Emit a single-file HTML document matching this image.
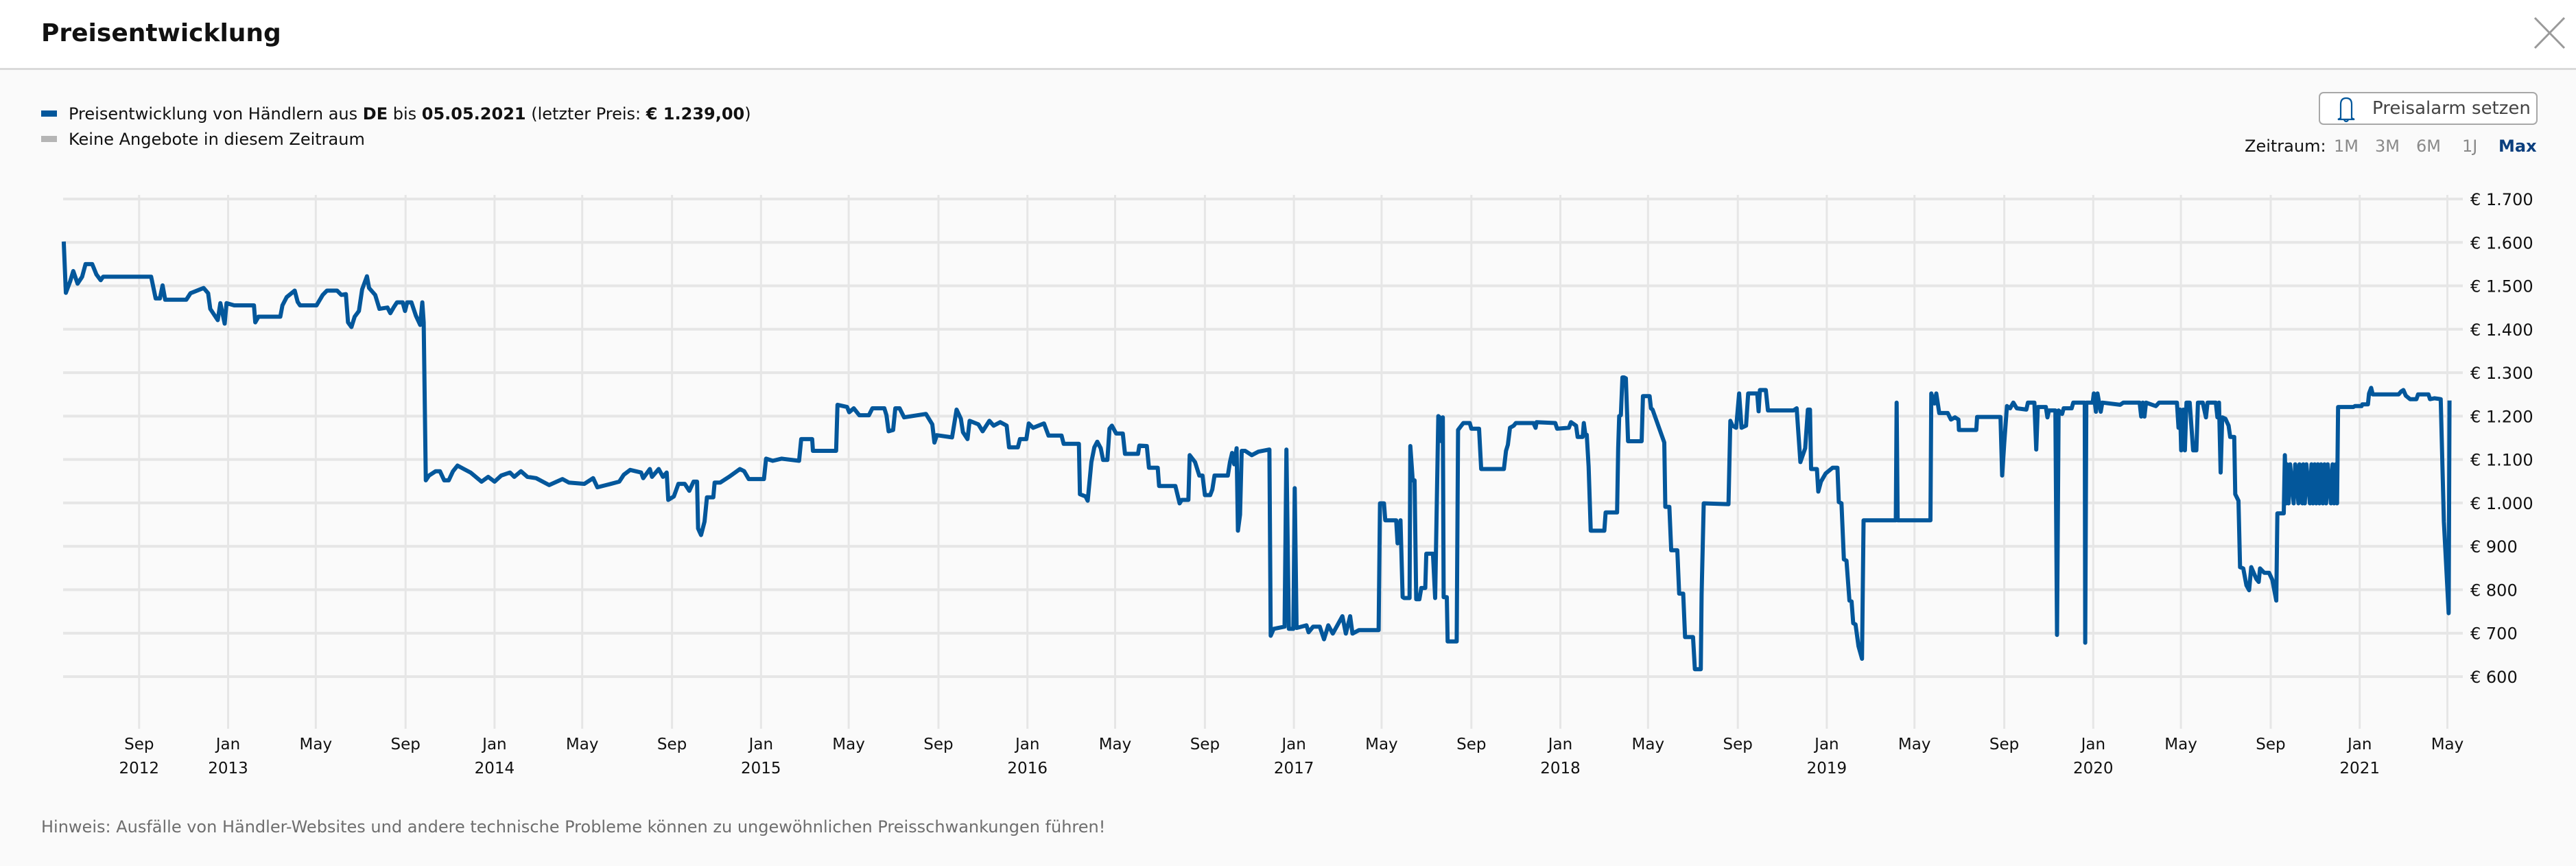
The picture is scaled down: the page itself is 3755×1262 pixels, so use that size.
<!DOCTYPE html>
<html><head><meta charset="utf-8">
<style>
html,body{margin:0;padding:0;width:3755px;height:1262px;overflow:hidden;background:#fafafa;font-family:"DejaVu Sans","Liberation Sans",sans-serif;}
svg{display:block}
</style></head>
<body>
<svg id="chart" width="3755" height="1262" viewBox="0 0 3755 1262" xmlns="http://www.w3.org/2000/svg">
  <rect x="0" y="0" width="3755" height="100" fill="#ffffff"/>
  <rect x="0" y="99" width="3755" height="3" fill="#dadada"/>
  <text x="60" y="60" font-size="36" font-weight="bold" fill="#111">Preisentwicklung</text>
  <g stroke="#9a9a9a" stroke-width="3">
    <line x1="3695" y1="26" x2="3738" y2="70"/>
    <line x1="3738" y1="26" x2="3695" y2="70"/>
  </g>

  <g font-size="24" fill="#111">
    <rect x="60" y="161" width="23" height="9" fill="#03579b"/>
    <text x="100" y="174">Preisentwicklung von Händlern aus <tspan font-weight="bold">DE</tspan> bis <tspan font-weight="bold">05.05.2021</tspan> (letzter Preis: <tspan font-weight="bold">€ 1.239,00</tspan>)</text>
    <rect x="60" y="198" width="23" height="9" fill="#b5b5b5"/>
    <text x="100" y="211">Keine Angebote in diesem Zeitraum</text>
  </g>

  <g>
    <rect x="3381" y="135" width="317" height="46" rx="6" fill="#ffffff" stroke="#a8a8a8" stroke-width="2"/>
    <path d="M3412 172 L3412 152 Q3412 143 3420 143 Q3428 143 3428 152 L3428 172 L3432 174 L3408 174 Z M3417 175 Q3420 179 3423 175" fill="none" stroke="#03579b" stroke-width="2.2"/>
    <text x="3458" y="166" font-size="26" fill="#444">Preisalarm setzen</text>
  </g>

  <g font-size="24">
    <text x="3272" y="221" fill="#111">Zeitraum:</text>
    <text x="3402" y="221" fill="#8a8a8a">1M</text>
    <text x="3462" y="221" fill="#8a8a8a">3M</text>
    <text x="3522" y="221" fill="#8a8a8a">6M</text>
    <text x="3589" y="221" fill="#8a8a8a">1J</text>
    <text x="3642" y="221" fill="#0b3f7e" font-weight="bold">Max</text>
  </g>

  <g id="grid"></g>
  <g id="yaxis"></g>
  <g id="xaxis"></g>
  <g id="series"></g>

  <text x="60" y="1213" font-size="24" fill="#6e6e6e">Hinweis: Ausfälle von Händler-Websites und andere technische Probleme können zu ungewöhnlichen Preisschwankungen führen!</text>
</svg>
<script>
const yTicks = [1700,1600,1500,1400,1300,1200,1100,1000,900,800,700,600];
const yTickLabels = ["€ 1.700","€ 1.600","€ 1.500","€ 1.400","€ 1.300","€ 1.200","€ 1.100","€ 1.000","€ 900","€ 800","€ 700","€ 600"];
const xTicks = [2012.666,2013.0,2013.329,2013.666,2014.0,2014.329,2014.666,2015.0,2015.329,2015.666,2016.0,2016.329,2016.666,2017.0,2017.329,2017.666,2018.0,2018.329,2018.666,2019.0,2019.329,2019.666,2020.0,2020.329,2020.666,2021.0,2021.329];
const xTickMonths = ["Sep","Jan","May","Sep","Jan","May","Sep","Jan","May","Sep","Jan","May","Sep","Jan","May","Sep","Jan","May","Sep","Jan","May","Sep","Jan","May","Sep","Jan","May"];
const xTickYears = ["2012","2013","","","2014","","","2015","","","2016","","","2017","","","2018","","","2019","","","2020","","","2021",""];
const dates = [
2012.383,2012.391,2012.407,2012.419,2012.435,2012.452,2012.465,2012.490,2012.506,2012.522,2012.531,2012.711,2012.728,2012.744,2012.754,2012.764,2012.843,2012.859,2012.908,2012.925,2012.933,2012.961,2012.971,2012.987,2012.994,2013.023,2013.097,2013.102,2013.114,2013.196,2013.204,2013.220,2013.250,2013.261,2013.270,2013.332,2013.355,2013.371,2013.409,2013.425,2013.442,2013.450,2013.463,2013.475,2013.491,2013.503,2013.521,2013.529,2013.552,2013.568,2013.598,2013.609,2013.623,2013.634,2013.655,2013.664,2013.672,2013.688,2013.705,2013.721,2013.729,2013.734,2013.742,2013.754,2013.779,2013.795,2013.811,2013.828,2013.844,2013.861,2013.885,2013.910,2013.951,2013.976,2014.000,2014.025,2014.058,2014.074,2014.099,2014.123,2014.156,2014.205,2014.255,2014.279,2014.337,2014.370,2014.386,2014.419,2014.468,2014.485,2014.509,2014.550,2014.558,2014.583,2014.591,2014.616,2014.632,2014.646,2014.652,2014.673,2014.690,2014.714,2014.731,2014.747,2014.760,2014.764,2014.775,2014.788,2014.797,2014.821,2014.826,2014.847,
2014.880,2014.921,2014.937,2014.954,2015.011,2015.019,2015.044,2015.077,2015.143,2015.151,2015.192,2015.195,2015.282,2015.287,2015.323,2015.331,2015.348,2015.369,2015.405,2015.418,2015.463,2015.471,2015.479,2015.496,2015.504,2015.520,2015.537,2015.619,2015.643,2015.651,2015.660,2015.717,2015.734,2015.750,2015.758,2015.775,2015.783,2015.816,2015.832,2015.857,2015.873,2015.898,2015.922,2015.931,2015.964,2015.972,2015.996,2016.005,2016.021,2016.062,2016.079,2016.128,2016.136,2016.193,2016.197,2016.218,2016.226,2016.240,2016.251,2016.262,2016.275,2016.284,2016.300,2016.308,2016.317,2016.333,2016.358,2016.366,2016.415,2016.420,2016.448,2016.456,2016.489,2016.494,2016.555,2016.571,2016.579,2016.604,2016.609,2016.629,2016.645,2016.657,2016.666,2016.686,2016.694,2016.702,2016.752,2016.760,2016.768,2016.776,2016.785,2016.790,2016.798,2016.804,2016.817,2016.842,2016.867,2016.908,2016.913,2016.924,2016.965,2016.972,2016.981,2016.998,2017.003,2017.010,2017.047,2017.055,2017.072,2017.097,2017.113,2017.129,2017.146,2017.182,2017.195,2017.211,2017.220,2017.244,2017.318,2017.323,2017.338,2017.343,2017.384,2017.389,2017.400,2017.408,
2017.414,2017.434,2017.437,2017.446,2017.453,2017.459,2017.471,2017.478,2017.493,2017.497,2017.522,2017.530,2017.542,2017.547,2017.553,2017.559,2017.562,2017.574,2017.577,2017.611,2017.616,2017.626,2017.636,2017.660,2017.666,2017.695,2017.703,2017.788,2017.796,2017.803,2017.811,2017.825,2017.833,2017.899,2017.907,2017.911,2017.981,2017.988,2018.032,2018.040,2018.059,2018.065,2018.084,2018.088,2018.094,2018.099,2018.106,2018.114,2018.165,2018.170,2018.213,2018.217,2018.221,2018.227,2018.233,2018.239,2018.246,2018.254,2018.305,2018.310,2018.335,2018.340,2018.346,2018.390,2018.394,2018.409,2018.416,2018.439,2018.446,2018.461,2018.468,2018.498,2018.505,2018.527,2018.530,2018.538,2018.631,2018.638,2018.646,2018.660,2018.671,2018.680,2018.697,2018.705,2018.739,2018.744,2018.749,2018.771,2018.779,2018.875,2018.887,2018.901,2018.919,2018.929,2018.937,2018.941,2018.963,2018.968,2018.978,2018.996,2019.022,2019.040,2019.045,2019.055,2019.064,2019.074,2019.085,2019.093,2019.099,2019.108,2019.119,2019.132,2019.138,2019.259,2019.262,2019.266,2019.389,2019.392,2019.404,2019.411,2019.422,2019.454,2019.466,2019.481,2019.494,2019.496,2019.561,2019.564,2019.652,2019.658,2019.666,2019.676,2019.688,2019.700,2019.713,2019.749,2019.755,2019.779,2019.786,2019.792,2019.822,2019.828,2019.834,2019.858,2019.864,2019.870,2019.883,2019.889,2019.919,2019.925,2019.968,2019.970,2019.974,2019.998,2020.002,2020.010,2020.016,2020.028,2020.034,2020.101,2020.113,2020.174,2020.180,2020.186,2020.192,2020.198,2020.235,2020.247,2020.314,2020.320,2020.326,2020.330,2020.338,2020.344,2020.350,2020.362,2020.375,2020.387,2020.393,2020.411,2020.423,2020.429,2020.460,2020.466,2020.472,2020.478,2020.484,2020.496,2020.508,2020.514,2020.529,2020.533,2020.545,2020.551,2020.563,2020.575,2020.585,2020.593,2020.612,2020.621,2020.626,2020.642,2020.660,2020.672,2020.687,2020.691,2020.715,2020.719,2020.724,2020.727,2020.733,2020.739,2020.752,2020.758,2020.770,2020.774,2020.785,2020.788,2020.794,2020.800,2020.813,2020.819,2020.825,2020.831,2020.837,2020.843,2020.849,2020.855,2020.862,2020.868,2020.874,2020.880,2020.892,2020.898,2020.904,2020.910,2020.915,2020.919,2020.976,2020.982,2021.007,2021.010,2021.031,2021.035,2021.043,2021.049,2021.146,2021.156,2021.164,2021.173,2021.189,2021.213,2021.219,2021.258,2021.264,2021.280,2021.304,2021.316,2021.334,2021.337
];
const prices = [
1602,1484,1510,1534,1505,1521,1550,1550,1526,1513,1521,1521,1471,1471,1501,1468,1468,1483,1495,1483,1447,1421,1460,1413,1460,1455,1455,1416,1429,1429,1455,1474,1489,1463,1455,1455,1479,1489,1489,1479,1481,1416,1405,1429,1442,1492,1522,1495,1479,1447,1450,1437,1452,1462,1462,1442,1462,1462,1431,1410,1462,1416,1052,1063,1073,1073,1052,1052,1073,1086,1078,1070,1049,1060,1049,1063,1070,1060,1073,1060,1057,1041,1055,1047,1044,1057,1036,1041,1049,1065,1076,1070,1057,1078,1060,1078,1060,1070,1007,1015,1044,1044,1028,1049,1049,941,926,957,1013,1013,1047,1047,
1060,1078,1073,1055,1055,1102,1097,1102,1097,1147,1147,1120,1120,1226,1221,1209,1218,1202,1202,1218,1218,1202,1165,1168,1218,1218,1197,1205,1181,1139,1156,1151,1215,1194,1163,1147,1189,1181,1165,1189,1178,1186,1178,1128,1128,1147,1147,1183,1173,1183,1155,1155,1136,1136,1020,1015,1005,1094,1128,1141,1126,1099,1099,1171,1178,1160,1160,1113,1113,1132,1131,1081,1081,1039,1039,999,1007,1007,1110,1094,1063,1063,1018,1018,1031,1063,1063,1094,1115,1089,1126,936,973,1120,1120,1110,1118,1123,694,710,715,1123,710,710,1034,712,718,702,715,715,686,718,699,739,699,739,699,707,707,999,999,960,960,907,960,783,
781,781,1131,1052,1052,778,778,804,804,883,883,781,1200,1197,1142,1197,783,783,681,681,1168,1176,1184,1184,1171,1171,1078,1078,1120,1134,1173,1178,1184,1184,1173,1186,1184,1171,1173,1186,1178,1152,1152,1184,1157,1157,1084,936,936,978,978,1126,1200,1202,1289,1289,1287,1142,1142,1246,1246,1218,1215,1139,991,991,891,891,791,791,691,691,617,617,789,999,997,1189,1178,1173,1252,1173,1178,1252,1252,1211,1260,1260,1213,1213,1218,1094,1126,1215,1215,1078,1078,1026,1049,1068,1081,1081,1002,999,870,867,775,773,723,720,670,641,960,960,1231,960,960,1252,1229,1252,1207,1207,1192,1197,1192,1168,1168,1198,1198,1063,1139,1223,1218,1231,1218,1215,1231,1231,1123,1221,1221,1197,1213,1213,696,1213,1205,1218,1218,1231,1231,678,1231,1231,1252,1210,1252,1210,1231,1226,1231,1231,1199,1231,1199,1231,1223,1231,1231,1173,1215,1121,1215,1121,1231,1231,1121,1121,1231,1231,1197,1231,1231,1197,1231,1070,1197,1194,1178,1152,1152,1020,1005,852,849,810,799,852,825,818,849,839,839,823,775,976,976,1110,999,1089,999,1089,999,1089,999,1089,999,1089,999,1089,999,1089,999,1089,999,1089,999,1089,999,1089,999,1089,999,1089,999,1089,999,1221,1221,1223,1223,1227,1227,1252,1265,1250,1250,1257,1260,1247,1239,1239,1250,1250,1239,1241,1239,957,746,1236
];

const NS = "http://www.w3.org/2000/svg";
const plotLeft = 92, plotRight = 3590, gridTop = 284, gridBottom = 1062;
const x0Year = 2013, x0Px = 332.5, pxPerYear = 388.4;
const yTopVal = 1700, yTopPx = 290, pxPerUnit = 0.6327;
function xScale(v){ return x0Px + (v - x0Year) * pxPerYear; }
function yScale(v){ return yTopPx + (yTopVal - v) * pxPerUnit; }

const grid = document.getElementById('grid');
const yaxis = document.getElementById('yaxis');
const xaxis = document.getElementById('xaxis');
const series = document.getElementById('series');

yTicks.forEach((v, i) => {
  const ln = document.createElementNS(NS, 'line');
  ln.setAttribute('x1', plotLeft); ln.setAttribute('x2', plotRight);
  ln.setAttribute('y1', yScale(v)); ln.setAttribute('y2', yScale(v));
  ln.setAttribute('stroke', '#e6e6e6'); ln.setAttribute('stroke-width', '4');
  
  
  grid.appendChild(ln);
  const t = document.createElementNS(NS, 'text');
  t.setAttribute('x', 3601); t.setAttribute('y', yScale(v) + 9);
  t.setAttribute('font-size', '24'); t.setAttribute('fill', '#111');
  t.textContent = yTickLabels[i];
  
  
  yaxis.appendChild(t);
});

xTicks.forEach((v, i) => {
  const x = xScale(v);
  const ln = document.createElementNS(NS, 'line');
  ln.setAttribute('x1', x); ln.setAttribute('x2', x);
  ln.setAttribute('y1', gridTop); ln.setAttribute('y2', gridBottom);
  ln.setAttribute('stroke', '#e6e6e6'); ln.setAttribute('stroke-width', '3');
  
  
  grid.appendChild(ln);
  const t = document.createElementNS(NS, 'text');
  t.setAttribute('x', x); t.setAttribute('y', 1092);
  t.setAttribute('font-size', '23'); t.setAttribute('fill', '#111');
  t.setAttribute('text-anchor', 'middle');
  t.textContent = xTickMonths[i];
  
  
  xaxis.appendChild(t);
  if (xTickYears[i]) {
    const ty = document.createElementNS(NS, 'text');
    ty.setAttribute('x', x); ty.setAttribute('y', 1127);
    ty.setAttribute('font-size', '23'); ty.setAttribute('fill', '#111');
    ty.setAttribute('text-anchor', 'middle');
    ty.textContent = xTickYears[i];
    
    
    xaxis.appendChild(ty);
  }
});

const n = Math.min(dates.length, prices.length);
const pts = [];
for (let i = 0; i < n; i++) pts.push(xScale(dates[i]).toFixed(1) + ',' + yScale(prices[i]).toFixed(1));
const pl = document.createElementNS(NS, 'polyline');
pl.setAttribute('points', pts.join(' '));
pl.setAttribute('fill', 'none');
pl.setAttribute('stroke', '#03579b');
pl.setAttribute('stroke-width', '6');
pl.setAttribute('stroke-linejoin', 'round');


series.appendChild(pl);
</script>
</body></html>
